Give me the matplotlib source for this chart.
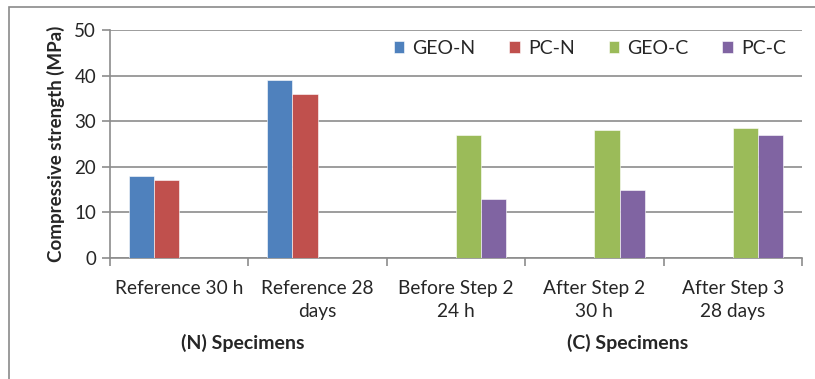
import matplotlib
matplotlib.use("Agg")
import matplotlib.pyplot as plt
import numpy as np
from matplotlib.patches import Rectangle

categories = ["Reference 30 h", "Reference 28\ndays", "Before Step 2\n24 h",
              "After Step 2\n30 h", "After Step 3\n28 days"]
series_names = ["GEO-N", "PC-N", "GEO-C", "PC-C"]
geo_n = [18, 39, np.nan, np.nan, np.nan]
pc_n = [17, 36, np.nan, np.nan, np.nan]
geo_c = [np.nan, np.nan, 27, 28, 28.5]
pc_c = [np.nan, np.nan, 13, 15, 27]
group_labels = ["(N) Specimens", "(C) Specimens"]
y_ticks = [0, 10, 20, 30, 40, 50]

colors = ["#4F81BD", "#C0504D", "#9BBB59", "#8064A2"]
grid_col = "#8C8C8C"
text_col = "#262626"

plt.rcParams["font.family"] = ["Lato", "DejaVu Sans"]

W, H = 815, 379
fig = plt.figure(figsize=(W / 100, H / 100), dpi=100)

# outer chart frame
fig.patches.append(Rectangle((9 / W, -0.05), 1.2, 1 - 7 / H + 0.05,
                             transform=fig.transFigure, fill=False,
                             edgecolor="#8A8A8A", linewidth=1.2))

ax = fig.add_axes([110 / W, 1 - 258 / H, (802 - 110) / W, (258 - 30) / H])

x = np.arange(len(categories))
w = 1 / 5.5
data = [geo_n, pc_n, geo_c, pc_c]
offsets = [-1.5, -0.5, 0.5, 1.5]
handles = []
for vals, off, col, name in zip(data, offsets, colors, series_names):
    v = np.array(vals, dtype=float)
    mask = ~np.isnan(v)
    b = ax.bar(x[mask] + off * w, v[mask], width=w, color=col, label=name,
               zorder=3, edgecolor="white", linewidth=0.4)
    handles.append(b)

ax.set_xlim(-0.5, len(categories) - 0.5)
ax.set_ylim(0, 50)
ax.set_yticks(y_ticks)
ax.yaxis.grid(True, color=grid_col, linewidth=1.2)
ax.set_axisbelow(True)

for s in ["top", "right"]:
    ax.spines[s].set_visible(False)
for s in ["left", "bottom"]:
    ax.spines[s].set_color(grid_col)
    ax.spines[s].set_linewidth(1.2)

ax.tick_params(axis="y", length=6, width=1.2, color=grid_col,
               labelsize=13.5, labelcolor=text_col, pad=4)
ax.set_xticks(np.arange(-0.5, len(categories), 1.0))
ax.set_xticklabels([])
ax.tick_params(axis="x", length=6, width=1.2, color=grid_col)

for xi, lab in zip(x, categories):
    ax.text(xi, -4.9, lab, ha="center", va="top", fontsize=13.8,
            color=text_col, linespacing=1.4, transform=ax.transData,
            clip_on=False)

ax.set_ylabel("Compressive strength (MPa)", fontsize=13.5, fontweight="bold",
              color=text_col, labelpad=7)

fig.text(243 / W, 1 - 343 / H, group_labels[0], ha="center", va="center",
         fontsize=14, fontweight="bold", color=text_col)
fig.text(628 / W, 1 - 343 / H, group_labels[1], ha="center", va="center",
         fontsize=14, fontweight="bold", color=text_col)

leg = ax.legend(handles=handles, labels=series_names, ncol=4,
                loc="center left", bbox_to_anchor=((386 - 110) / (802 - 110), 0.92),
                frameon=False, fontsize=14, handlelength=0.55, handleheight=0.55,
                handletextpad=0.4, columnspacing=1.75, borderaxespad=0,
                labelcolor=text_col)

fig.savefig("out.png", dpi=100)
